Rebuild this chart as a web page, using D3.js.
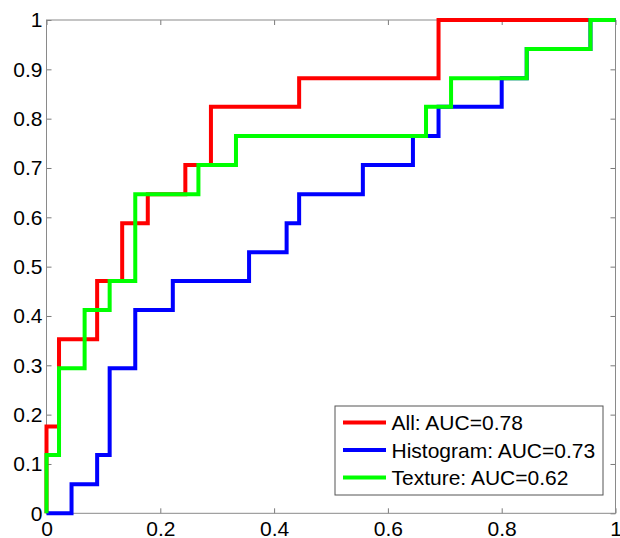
<!DOCTYPE html>
<html>
<head>
<meta charset="utf-8">
<script src="https://cdn.jsdelivr.net/npm/d3@7"></script>
<style>
  body { margin: 0; background: #fff; }
  svg { display: block; font-family: "Liberation Sans", Arial, Helvetica, sans-serif; }
  .axis text { font-size: 21px; fill: #000; }
  .axis line { stroke: #7a7a7a; }
  .legend text { font-size: 21px; fill: #000; }
</style>
</head>
<body>
<script>
(function(){

    // ROC points (false positive rate, true positive rate), drawn as steps
    var allFpr  = [0, 0, 0.022, 0.089, 0.133, 0.178, 0.244, 0.289, 0.444, 0.689, 1];
    var allTpr  = [0, 0.176, 0.353, 0.471, 0.588, 0.647, 0.706, 0.824, 0.882, 1, 1];

    var histFpr = [0, 0.044, 0.089, 0.111, 0.156, 0.222, 0.356, 0.422, 0.444, 0.556, 0.644, 0.689, 0.8, 0.844, 0.956, 1];
    var histTpr = [0, 0.059, 0.118, 0.294, 0.412, 0.471, 0.529, 0.588, 0.647, 0.706, 0.765, 0.824, 0.882, 0.941, 1, 1];

    var texFpr  = [0, 0, 0.022, 0.067, 0.111, 0.156, 0.267, 0.333, 0.667, 0.711, 0.844, 0.956, 1];
    var texTpr  = [0, 0.118, 0.294, 0.412, 0.471, 0.647, 0.706, 0.765, 0.824, 0.882, 0.941, 1, 1];

    var seriesNames  = ["All: AUC=0.78", "Histogram: AUC=0.73", "Texture: AUC=0.62"];
    var seriesColors = ["#ff0000", "#0000ff", "#00ff00"];

    var xTicks = [0, 0.2, 0.4, 0.6, 0.8, 1];
    var yTicks = [0, 0.1, 0.2, 0.3, 0.4, 0.5, 0.6, 0.7, 0.8, 0.9, 1];

    var width = 620,
        height = 538,
        margin = {top: 20, right: 4.5, bottom: 24.7, left: 46.5},
        innerW = width - margin.left - margin.right,
        innerH = height - margin.top - margin.bottom;

    var svg = d3.select("body")
        .append("svg")
        .attr("width", width)
        .attr("height", height);

    var g = svg.append("g")
        .attr("transform", "translate(" + margin.left + "," + margin.top + ")");

    var x = d3.scaleLinear().domain([0, 1]).range([0, innerW]);
    var y = d3.scaleLinear().domain([0, 1]).range([innerH, 0]);

    var fmt = d3.format("~g");

    // axes with inward ticks on all four sides
    g.append("g")
        .attr("class", "axis")
        .attr("transform", "translate(0," + innerH + ")")
        .call(d3.axisBottom(x).tickValues(xTicks).tickFormat(fmt)
            .tickSizeInner(-5).tickSizeOuter(0).tickPadding(8));

    g.append("g")
        .attr("class", "axis")
        .call(d3.axisTop(x).tickValues(xTicks).tickFormat("")
            .tickSizeInner(-5).tickSizeOuter(0));

    g.append("g")
        .attr("class", "axis")
        .call(d3.axisLeft(y).tickValues(yTicks).tickFormat(fmt)
            .tickSizeInner(-5).tickSizeOuter(0).tickPadding(4));

    g.append("g")
        .attr("class", "axis")
        .attr("transform", "translate(" + innerW + ",0)")
        .call(d3.axisRight(y).tickValues(yTicks).tickFormat("")
            .tickSizeInner(-5).tickSizeOuter(0));

    g.selectAll(".axis .domain").remove();

    g.append("rect")
        .attr("width", innerW)
        .attr("height", innerH)
        .attr("fill", "none")
        .attr("stroke", "#8a8a8a")
        .attr("stroke-width", 1);

    // curves
    var series = [
        {fpr: allFpr, tpr: allTpr},
        {fpr: histFpr, tpr: histTpr},
        {fpr: texFpr, tpr: texTpr}
    ];

    var line = d3.line()
        .x(function(d){ return x(d[0]); })
        .y(function(d){ return y(d[1]); })
        .curve(d3.curveStepAfter);

    g.selectAll(".roc")
        .data(series)
        .enter()
        .append("path")
        .attr("class", "roc")
        .attr("fill", "none")
        .attr("stroke", function(d, i){ return seriesColors[i]; })
        .attr("stroke-width", 4)
        .attr("stroke-linejoin", "miter")
        .attr("d", function(d){ return line(d3.zip(d.fpr, d.tpr)); });

    // legend
    var legend = svg.append("g")
        .attr("class", "legend")
        .attr("transform", "translate(335,406)");

    legend.append("rect")
        .attr("width", 268)
        .attr("height", 89)
        .attr("fill", "#fff")
        .attr("stroke", "#555")
        .attr("stroke-width", 1);

    var rows = legend.selectAll(".row")
        .data(seriesNames)
        .enter()
        .append("g")
        .attr("class", "row")
        .attr("transform", function(d, i){ return "translate(0," + (16.5 + i * 27.5) + ")"; });

    rows.append("line")
        .attr("x1", 8)
        .attr("x2", 51)
        .attr("stroke", function(d, i){ return seriesColors[i]; })
        .attr("stroke-width", 4);

    rows.append("text")
        .attr("x", 56.5)
        .attr("dy", "0.36em")
        .text(function(d){ return d; });

})();
</script>
</body>
</html>
